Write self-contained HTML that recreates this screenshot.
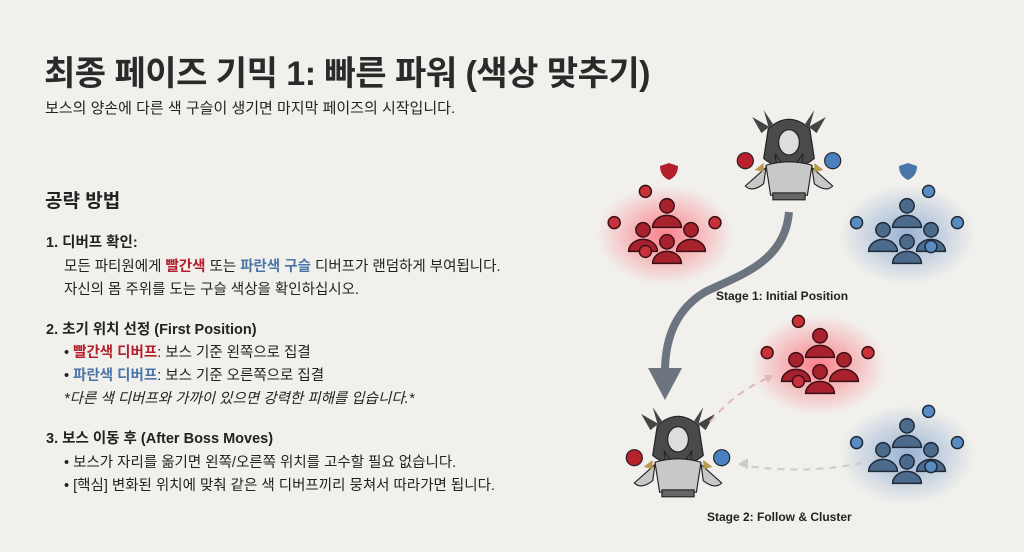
<!DOCTYPE html>
<html><head><meta charset="utf-8"><style>
body{margin:0;width:1024px;height:552px;background:#f1f0ec;font-family:"Liberation Sans","Noto Sans CJK KR",sans-serif;color:#222;position:relative;overflow:hidden}
.t{position:absolute;white-space:nowrap}
h1{position:absolute;left:44px;top:46px;margin:0;font-size:34px;font-weight:bold;color:#2a2a2a;letter-spacing:-0.5px}
.r{color:#b3202c;font-weight:bold}.b{color:#4a76a8;font-weight:bold}
.li{font-size:14.5px}
</style></head><body>
<h1>최종 페이즈 기믹 1: 빠른 파워 (색상 맞추기)</h1>
<div class="t" style="left:45px;top:97px;font-size:15px">보스의 양손에 다른 색 구슬이 생기면 마지막 페이즈의 시작입니다.</div>
<div class="t" style="left:45px;top:186px;font-size:19px;font-weight:bold">공략 방법</div>
<div class="t li" style="left:46px;top:231px"><b>1. 디버프 확인:</b></div>
<div class="t li" style="left:64px;top:255px">모든 파티원에게 <span class="r">빨간색</span> 또는 <span class="b">파란색 구슬</span> 디버프가 랜덤하게 부여됩니다.</div>
<div class="t li" style="left:64px;top:278px">자신의 몸 주위를 도는 구슬 색상을 확인하십시오.</div>
<div class="t li" style="left:46px;top:318px"><b>2. 초기 위치 선정 (First Position)</b></div>
<div class="t li" style="left:64px;top:341px">• <span class="r">빨간색 디버프</span>: 보스 기준 왼쪽으로 집결</div>
<div class="t li" style="left:64px;top:364px">• <span class="b">파란색 디버프</span>: 보스 기준 오른쪽으로 집결</div>
<div class="t li" style="left:64px;top:387px;font-style:italic">*다른 색 디버프와 가까이 있으면 강력한 피해를 입습니다.*</div>
<div class="t li" style="left:46px;top:427px"><b>3. 보스 이동 후 (After Boss Moves)</b></div>
<div class="t li" style="left:64px;top:451px">• 보스가 자리를 옮기면 왼쪽/오른쪽 위치를 고수할 필요 없습니다.</div>
<div class="t li" style="left:64px;top:474px">• [핵심] 변화된 위치에 맞춰 같은 색 디버프끼리 뭉쳐서 따라가면 됩니다.</div>
<div class="t" style="left:716px;top:289px;font-size:12px;font-weight:bold">Stage 1: Initial Position</div>
<div class="t" style="left:707px;top:510px;font-size:12px;font-weight:bold">Stage 2: Follow &amp; Cluster</div>
<svg width="1024" height="552" style="position:absolute;left:0;top:0">
<defs>
<radialGradient id="rg"><stop offset="0" stop-color="#ff5060" stop-opacity=".7"/><stop offset="1" stop-color="#ff5060" stop-opacity="0"/></radialGradient>
<radialGradient id="bg"><stop offset="0" stop-color="#5080c0" stop-opacity=".55"/><stop offset="1" stop-color="#5080c0" stop-opacity="0"/></radialGradient>
<g id="pr" fill="#a8222e" stroke="#3a1014" stroke-width="1.2">
<circle cx="0" cy="-26" r="6"/><path d="M-12 -8a12 10 0 0 1 24 0z"/>
<circle cx="-20" cy="-6" r="6"/><path d="M-32 12a12 10 0 0 1 24 0z"/>
<circle cx="20" cy="-6" r="6"/><path d="M8 12a12 10 0 0 1 24 0z"/>
<circle cx="0" cy="4" r="6"/><path d="M-12 22a12 10 0 0 1 24 0z"/>
<circle cx="-18" cy="-38" r="5" fill="#c8303a"/><circle cx="-44" cy="-12" r="5" fill="#c8303a"/><circle cx="40" cy="-12" r="5" fill="#c8303a"/><circle cx="-18" cy="12" r="5" fill="#c8303a"/>
</g>
<g id="pb" fill="#4c6a8c" stroke="#1e2a38" stroke-width="1.2">
<circle cx="0" cy="-26" r="6"/><path d="M-12 -8a12 10 0 0 1 24 0z"/>
<circle cx="-20" cy="-6" r="6"/><path d="M-32 12a12 10 0 0 1 24 0z"/>
<circle cx="20" cy="-6" r="6"/><path d="M8 12a12 10 0 0 1 24 0z"/>
<circle cx="0" cy="4" r="6"/><path d="M-12 22a12 10 0 0 1 24 0z"/>
<circle cx="18" cy="-38" r="5" fill="#5a8cc4"/><circle cx="-42" cy="-12" r="5" fill="#5a8cc4"/><circle cx="42" cy="-12" r="5" fill="#5a8cc4"/><circle cx="20" cy="8" r="5" fill="#5a8cc4"/>
</g>
<g id="boss">
<path d="M-14 -34l-8-12 4 14-14-8 8 14zM14 -34l8-12-4 14 14-8-8 14z" fill="#444"/>
<path d="M-18 -30q18-16 36 0l4 26q-22 18-44 0z" fill="#4a4a4a" stroke="#222"/>
<ellipse cx="0" cy="-18" rx="9" ry="11" fill="#ddd" stroke="#222"/>
<path d="M-12 -8q12 22 24 0q0 14-12 18q-12-4-12-18z" fill="#555" stroke="#222"/>
<path d="M-20 2q20-6 40 0l-4 26h-32z" fill="#c8c8c8" stroke="#222"/>
<path d="M-20 4l-18 16q6 6 16-2zM20 4l18 16q-6 6-16-2z" fill="#c8c8c8" stroke="#222"/>
<path d="M-22 0l-8 6 8 2zM22 0l8 6-8 2z" fill="#b89a50"/>
<rect x="-14" y="26" width="28" height="6" fill="#666" stroke="#222"/>
<circle cx="-38" cy="-2" r="7" fill="#b8202c" stroke="#222"/>
<circle cx="38" cy="-2" r="7" fill="#4a80c0" stroke="#222"/>
</g>
</defs>
<ellipse cx="665" cy="235" rx="68" ry="50" fill="url(#rg)"/><use href="#pr" transform="translate(667 237) scale(1.2)"/>
<ellipse cx="907" cy="235" rx="68" ry="50" fill="url(#bg)"/><use href="#pb" transform="translate(907 237) scale(1.2)"/>
<ellipse cx="818" cy="365" rx="68" ry="50" fill="url(#rg)"/><use href="#pr" transform="translate(820 367) scale(1.2)"/>
<ellipse cx="907" cy="455" rx="68" ry="50" fill="url(#bg)"/><use href="#pb" transform="translate(907 457) scale(1.2)"/>
<path d="M660 166l9-3 9 3q0 10-9 14q-9-4-9-14z" fill="#b3202c"/>
<path d="M899 166l9-3 9 3q0 10-9 14q-9-4-9-14z" fill="#4a76a8"/>
<use href="#boss" transform="translate(789 163) scale(1.15)"/>
<use href="#boss" transform="translate(678 460) scale(1.15)"/>
<path d="M789 212C785 262 740 275 705 292C675 310 665 340 665 372" fill="none" stroke="#6c7480" stroke-width="8"/>
<path d="M648 368l17 32 17-32z" fill="#6c7480"/>
<path d="M710 422q25-30 58-44" fill="none" stroke="#e0b8bc" stroke-width="2" stroke-dasharray="7 6"/>
<path d="M774 375l-10 0 4 8z" fill="#e0b8bc"/>
<path d="M862 463q-60 12-122 2" fill="none" stroke="#ccc" stroke-width="2" stroke-dasharray="7 6"/>
<path d="M738 464l10-6 0 11z" fill="#ccc"/>
</svg>
</body></html>
